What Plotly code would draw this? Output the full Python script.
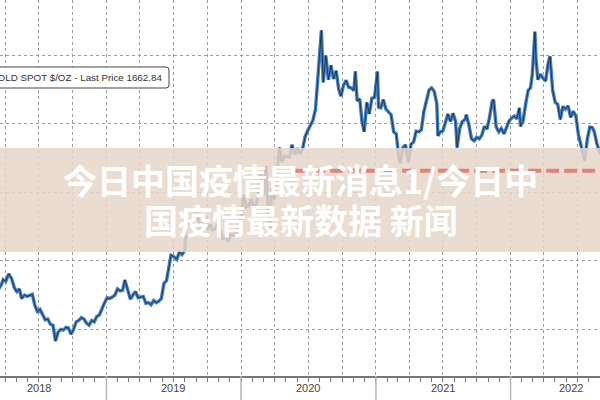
import plotly.graph_objects as go

# ---- data (gold spot $/oz) ----
dates = [
    "2018-03-10", "2018-03-15", "2018-03-22", "2018-03-27", "2018-04-03", "2018-04-11", "2018-04-19", "2018-04-26",
    "2018-05-03", "2018-05-10", "2018-05-16", "2018-05-24", "2018-05-31", "2018-06-07", "2018-06-14",
    "2018-06-21", "2018-06-28", "2018-07-05", "2018-07-12", "2018-07-19", "2018-07-26", "2018-08-02",
    "2018-08-09", "2018-08-16", "2018-08-23", "2018-08-30", "2018-09-06", "2018-09-13", "2018-09-20",
    "2018-09-27", "2018-10-04", "2018-10-11", "2018-10-18", "2018-10-25", "2018-11-01", "2018-11-08",
    "2018-11-15", "2018-11-22", "2018-11-29", "2018-12-06", "2018-12-13", "2018-12-20", "2018-12-27",
    "2019-01-03", "2019-01-10", "2019-01-17", "2019-01-24", "2019-01-31", "2019-02-07", "2019-02-14",
    "2019-02-20", "2019-02-27", "2019-03-07", "2019-03-14", "2019-03-21", "2019-03-28", "2019-04-04",
    "2019-04-11", "2019-04-18", "2019-04-25", "2019-05-02", "2019-05-09", "2019-05-16", "2019-05-23",
    "2019-05-30", "2019-06-06", "2019-06-13", "2019-06-20", "2019-06-25", "2019-07-03", "2019-07-11",
    "2019-07-18", "2019-07-25", "2019-08-01", "2019-08-07", "2019-08-14", "2019-08-21", "2019-08-28",
    "2019-09-04", "2019-09-11", "2019-09-18", "2019-09-25", "2019-10-02", "2019-10-09", "2019-10-16",
    "2019-10-23", "2019-10-30", "2019-11-06", "2019-11-13", "2019-11-20", "2019-11-27", "2019-12-04",
    "2019-12-11", "2019-12-18", "2019-12-26", "2020-01-02", "2020-01-08", "2020-01-15", "2020-01-22",
    "2020-01-29", "2020-02-05", "2020-02-12", "2020-02-19", "2020-02-24", "2020-03-02", "2020-03-09",
    "2020-03-16", "2020-03-19", "2020-03-24", "2020-03-31", "2020-04-07", "2020-04-14", "2020-04-21",
    "2020-04-28", "2020-05-05", "2020-05-12", "2020-05-18", "2020-05-26", "2020-06-02", "2020-06-09",
    "2020-06-16", "2020-06-23", "2020-06-30", "2020-07-07", "2020-07-14", "2020-07-21", "2020-07-27",
    "2020-08-04", "2020-08-06", "2020-08-11", "2020-08-18", "2020-08-25", "2020-09-01", "2020-09-08",
    "2020-09-15", "2020-09-22", "2020-09-28", "2020-10-05", "2020-10-12", "2020-10-19", "2020-10-26",
    "2020-11-02", "2020-11-06", "2020-11-11", "2020-11-18", "2020-11-24", "2020-11-30", "2020-12-07",
    "2020-12-14", "2020-12-21", "2020-12-28", "2021-01-05", "2021-01-08", "2021-01-14", "2021-01-21",
    "2021-01-28", "2021-02-04", "2021-02-11", "2021-02-18", "2021-02-25", "2021-03-04", "2021-03-08",
    "2021-03-15", "2021-03-22", "2021-03-30", "2021-04-06", "2021-04-13", "2021-04-20", "2021-04-27",
    "2021-05-04", "2021-05-11", "2021-05-18", "2021-05-25", "2021-06-01", "2021-06-08", "2021-06-15",
    "2021-06-18", "2021-06-24", "2021-07-01", "2021-07-08", "2021-07-15", "2021-07-22", "2021-07-29",
    "2021-08-05", "2021-08-09", "2021-08-16", "2021-08-23", "2021-08-31", "2021-09-03", "2021-09-10",
    "2021-09-17", "2021-09-24", "2021-10-01", "2021-10-08", "2021-10-15", "2021-10-22", "2021-10-29",
    "2021-11-05", "2021-11-12", "2021-11-16", "2021-11-23", "2021-11-30", "2021-12-07", "2021-12-14",
    "2021-12-21", "2021-12-28", "2022-01-04", "2022-01-11", "2022-01-18", "2022-01-25", "2022-01-28",
    "2022-02-04", "2022-02-11", "2022-02-18", "2022-02-24", "2022-03-01", "2022-03-08", "2022-03-11",
    "2022-03-16", "2022-03-23", "2022-03-30", "2022-04-06", "2022-04-13", "2022-04-18", "2022-04-25",
    "2022-05-02", "2022-05-09", "2022-05-16", "2022-05-23", "2022-05-30", "2022-06-06", "2022-06-13",
    "2022-06-20", "2022-06-27", "2022-07-04", "2022-07-11", "2022-07-18", "2022-07-21", "2022-07-28",
    "2022-08-04", "2022-08-11", "2022-08-16", "2022-08-23", "2022-08-30", "2022-09-06", "2022-09-13",
    "2022-09-20", "2022-09-27", "2022-09-30",
]
prices = [
    1322, 1318, 1330, 1345, 1340, 1362, 1348, 1322,
    1310, 1318, 1290, 1300, 1296, 1298, 1302,
    1270, 1252, 1258, 1244, 1228, 1230, 1215,
    1212, 1166, 1192, 1200, 1198, 1206, 1204,
    1186, 1200, 1222, 1226, 1234, 1230, 1218,
    1212, 1226, 1222, 1238, 1242, 1262, 1278,
    1292, 1290, 1294, 1300, 1318, 1312, 1314,
    1344, 1318, 1288, 1300, 1310, 1292, 1294,
    1296, 1276, 1278, 1272, 1284, 1278, 1282,
    1290, 1334, 1342, 1380, 1416, 1412, 1404,
    1426, 1418, 1430, 1500, 1516, 1500, 1540,
    1552, 1496, 1504, 1530, 1490, 1506, 1490,
    1492, 1508, 1488, 1462, 1472, 1456, 1476,
    1474, 1478, 1506, 1528, 1592, 1556, 1560,
    1580, 1556, 1566, 1610, 1660, 1590, 1676,
    1520, 1474, 1610, 1578, 1648, 1730, 1688,
    1706, 1704, 1702, 1738, 1710, 1728, 1712,
    1726, 1762, 1780, 1796, 1810, 1842, 1930,
    2020, 2072, 1920, 1998, 1928, 1970, 1930,
    1954, 1900, 1880, 1912, 1926, 1906, 1904,
    1896, 1952, 1866, 1872, 1806, 1776, 1862,
    1828, 1874, 1876, 1952, 1848, 1846, 1870,
    1842, 1834, 1826, 1776, 1770, 1700, 1684,
    1730, 1738, 1686, 1740, 1746, 1778, 1776,
    1782, 1836, 1868, 1898, 1904, 1894, 1858,
    1764, 1776, 1778, 1802, 1828, 1806, 1830,
    1806, 1730, 1786, 1806, 1812, 1826, 1796,
    1756, 1750, 1760, 1756, 1766, 1792, 1784,
    1818, 1864, 1870, 1790, 1776, 1786, 1770,
    1790, 1808, 1816, 1822, 1814, 1846, 1792,
    1808, 1858, 1898, 1904, 1944, 2068, 1988,
    1928, 1944, 1932, 1924, 1976, 1996, 1898,
    1862, 1856, 1812, 1850, 1842, 1852, 1818,
    1836, 1822, 1768, 1736, 1708, 1692, 1754,
    1790, 1788, 1776, 1742, 1718, 1706, 1702,
    1670, 1640, 1662.84,
]

last_price = 1662.84
legend_text = "GOLD SPOT $/OZ - Last Price 1662.84"
year_labels = ["2018", "2019", "2020", "2021", "2022"]
year_label_dates = ["2018-07-01", "2019-07-01", "2020-07-01", "2021-07-03", "2022-06-14"]
year_starts = ["2019-01-01", "2020-01-01", "2021-01-01", "2022-01-01"]
quarter_ticks = [f"{y}-{m:02d}-01" for y in range(2018, 2023) for m in (1, 4, 7, 10)]
price_grid = [1200, 1400, 1600, 1800, 2000]
headline = ["今日中国疫情最新消息1/今日中", "国疫情最新数据 新闻"]

W, H = 600, 400
PLOT_H = 376

fig = go.Figure()
fig.add_trace(go.Scatter(x=dates, y=prices, mode="lines",
                         line=dict(color="#3f80cc", width=3.4), hoverinfo="skip"))
fig.add_trace(go.Scatter(x=dates, y=prices, mode="lines",
                         line=dict(color="#141414", width=0.8), opacity=0.85, hoverinfo="skip"))

def py(px):
    return 1 - px / PLOT_H

shapes = []
# banner
shapes.append(dict(type="rect", xref="paper", yref="paper", x0=-0.01, x1=1.01,
                   y0=py(252), y1=py(148), fillcolor="rgba(230,214,200,0.86)",
                   line=dict(width=0), layer="above"))
# last price line
shapes.append(dict(type="line", xref="x", yref="y", x0="2020-05-24", x1="2022-12-31",
                   y0=last_price, y1=last_price,
                   line=dict(color="#e4827a", width=4, dash="13px,5px"), layer="above"))
# legend box (rounded)
x0, x1 = -20 / W, 169 / W
yt, yb = py(67), py(88)
rx, ry = 3 / W, 3 / PLOT_H
path = (f"M {x0},{yt} L {x1-rx},{yt} Q {x1},{yt} {x1},{yt-ry} "
        f"L {x1},{yb+ry} Q {x1},{yb} {x1-rx},{yb} L {x0},{yb} Z")
shapes.append(dict(type="path", xref="paper", yref="paper", path=path,
                   fillcolor="white", line=dict(color="#444444", width=1), layer="above"))
# year separators below axis
for d in year_starts:
    shapes.append(dict(type="line", xref="x", yref="paper", x0=d, x1=d,
                       y0=0, y1=-(H - PLOT_H) / PLOT_H,
                       line=dict(color="#b5b5b5", width=1.5)))

annotations = []
annotations.append(dict(text=legend_text, xref="paper", yref="paper", x=164 / W, y=py(77.5),
                        xanchor="right", yanchor="middle", showarrow=False,
                        font=dict(family="Liberation Sans, Arial", size=9.8, color="#333333")))
for lab, d in zip(year_labels, year_label_dates):
    annotations.append(dict(text=lab, xref="x", yref="paper", x=d, y=0, yshift=-12,
                            xanchor="center", yanchor="middle", showarrow=False,
                            font=dict(family="Liberation Sans, Arial", size=11, color="#444444")))
annotations.append(dict(text="<b>" + headline[0] + "</b>", xref="paper", yref="paper",
                        x=300 / W, y=py(179), xanchor="center", yanchor="middle", showarrow=False,
                        font=dict(family="Noto Sans CJK SC", size=34, color="white")))
annotations.append(dict(text="<b>" + headline[1] + "</b>", xref="paper", yref="paper",
                        x=301 / W, y=py(219), xanchor="center", yanchor="middle", showarrow=False,
                        font=dict(family="Noto Sans CJK SC", size=34, color="white")))

fig.update_layout(
    width=W, height=H,
    margin=dict(l=0, r=0, t=0, b=H - PLOT_H, pad=0),
    paper_bgcolor="white", plot_bgcolor="white",
    showlegend=False,
    shapes=shapes, annotations=annotations,
    xaxis=dict(type="date", range=["2018-03-18 10:00", "2022-08-31 13:00"],
               tickvals=quarter_ticks, showticklabels=False,
               showgrid=True, gridcolor="#9c9c9c", gridwidth=1, griddash="dot",
               ticks="outside", ticklen=4, tickcolor="#777777",
               minor=dict(dtick="M1", ticks="outside", ticklen=4, tickcolor="#777777", showgrid=False),
               showline=True, linecolor="#777777", linewidth=1.5, zeroline=False, fixedrange=True),
    yaxis=dict(range=[1064, 2160.4], tickvals=price_grid, showticklabels=False,
               showgrid=True, gridcolor="#9c9c9c", gridwidth=1, griddash="dot",
               zeroline=False, showline=False, fixedrange=True),
)

fig.write_html("out.html")
